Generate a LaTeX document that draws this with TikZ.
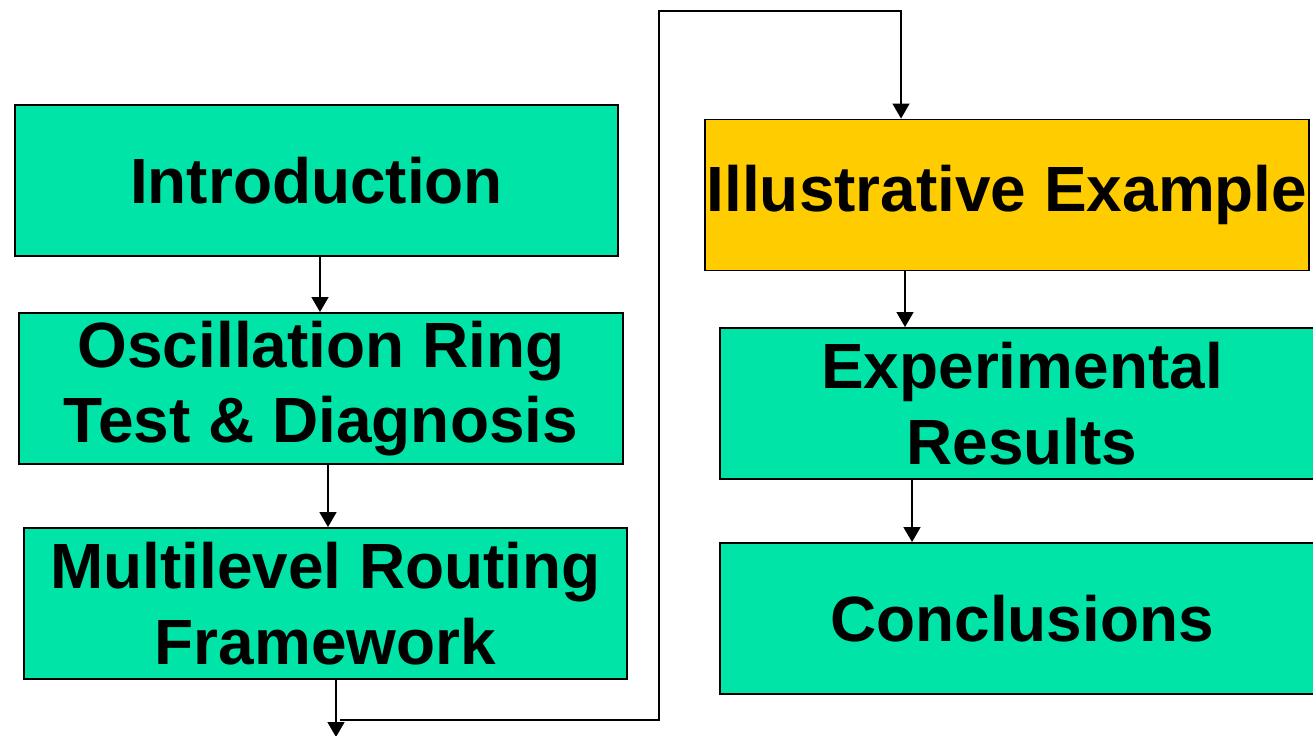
\documentclass[tikz,border=0pt]{standalone}
\usepackage{fontspec}
\setmainfont{Liberation Sans}
\usetikzlibrary{arrows.meta,positioning}
\definecolor{boxgreen}{RGB}{0,228,168}
\definecolor{boxyellow}{RGB}{255,204,0}

\begin{document}
\begin{tikzpicture}[x=0.02cm, y=-0.02cm,
    >={Triangle[length=0.3cm,width=0.34cm]},
    part/.style={draw, line width=1.1pt, fill=boxgreen,
                 minimum width=12.08cm, minimum height=3.02cm,
                 align=center, inner sep=0pt,
                 font=\fontsize{36.4}{43}\selectfont\bfseries},
    cur/.style={part, fill=boxyellow},
    arr/.style={->, line width=0.9pt}]

  \clip (0,0) rectangle (1313,736);

  %% Left column
  \node[part] (intro) at (316.5,180.5) {Introduction};
  \node[part] (osc)   at (321,388.5)   {Oscillation Ring\\Test \& Diagnosis};
  \node[part] (multi) at (325.5,603.5) {Multilevel Routing\\Framework};

  %% Right column
  \node[cur]  (illus) at (1007,195)    {Illustrative Example};
  \node[part] (exper) at (1022,403.5)  {Experimental\\Results};
  \node[part] (concl) at (1022,618.5)  {Conclusions};

  %% Flow
  \draw[arr] ([xshift=0.07cm]intro.south) -- ([xshift=0.07cm]intro.south |- osc.north);
  \draw[arr] ([xshift=0.14cm]osc.south) -- ([xshift=0.14cm]osc.south |- multi.north);
  \coordinate (down) at (336,737);
  \draw[arr] ([xshift=0.21cm]multi.south) -- (down);

  \coordinate (low)  at (340,720);
  \coordinate (high) at (659,11);
  \draw[arr] (low) -| (high) -| ([xshift=-2.12cm]illus.north);

  \draw[arr] ([xshift=-2.04cm]illus.south) -- ([xshift=-2.04cm]illus.south |- exper.north);
  \draw[arr] ([xshift=-2.2cm]exper.south) -- ([xshift=-2.2cm]exper.south |- concl.north);
\end{tikzpicture}
\end{document}
